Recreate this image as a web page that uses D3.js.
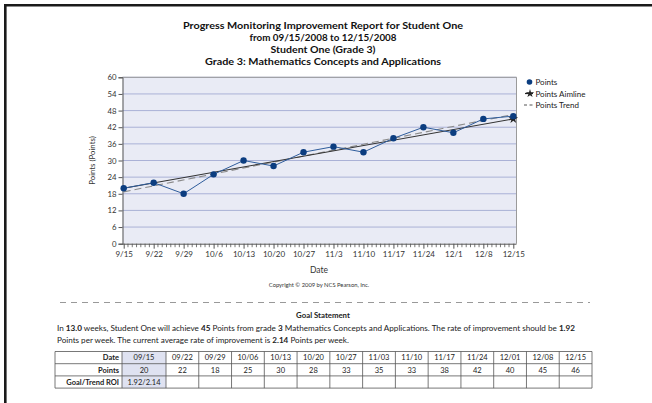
<!DOCTYPE html>
<html><head><meta charset="utf-8">
<script src="https://cdn.jsdelivr.net/npm/d3@7"></script>
<style>
body{margin:0;background:#fff;}
svg{display:block;font-family:Lato,"Open Sans",sans-serif;}
</style></head>
<body><svg id="c" width="652" height="403"></svg>
<script>
const dates = ["9/15","9/22","9/29","10/6","10/13","10/20","10/27","11/3","11/10","11/17","11/24","12/1","12/8","12/15"];
const tableDates = ["09/15","09/22","09/29","10/06","10/13","10/20","10/27","11/03","11/10","11/17","11/24","12/01","12/08","12/15"];
const points = [20,22,18,25,30,28,33,35,33,38,42,40,45,46];
const aimline = [20,45];      // start / end values
const trendline = [18.7,46.6]; // start / end values
const yTicks = [0,6,12,18,24,30,36,42,48,54,60];
const titleLines = ["Progress Monitoring Improvement Report for Student One","from 09/15/2008 to 12/15/2008","Student One (Grade 3)","Grade 3:  Mathematics Concepts and Applications"];
const legendLabels = ["Points","Points Aimline","Points Trend"];
const roiLabel = ["1.92/2.14"];

const svg = d3.select("#c");
// outer frame
svg.append("path").attr("d","M5.3,403 V5.3 H652").attr("fill","none").attr("stroke","#1a1a1a").attr("stroke-width",2.6);

// titles
const tY=[29,41,53,65];
const tW=[280,147,105,236];
titleLines.forEach((t,i)=>{
  svg.append("text").attr("x",323).attr("y",tY[i]).attr("text-anchor","middle")
   .attr("font-size",10).attr("font-weight","bold").attr("fill","#111")
   .attr("textLength",tW[i]).attr("lengthAdjust","spacingAndGlyphs").text(t);
});

const L=122.5,R=516.5,T=77.3,B=243.7;
const x = d3.scaleLinear().domain([0,91]).range([123.7,513.3]);
const y = d3.scaleLinear().domain([0,60]).range([B,T]);
const dayOf = i=>i*7;

svg.append("rect").attr("x",L).attr("y",T).attr("width",R-L).attr("height",B-T).attr("fill","#e9ebf5");
// grid
svg.append("g").selectAll("line").data(yTicks.filter(d=>d>0)).join("line")
  .attr("x1",L).attr("x2",R).attr("y1",d=>y(d)).attr("y2",d=>y(d))
  .attr("stroke","#aab1d6").attr("stroke-width",1);
// plot border top/right
svg.append("path").attr("d",`M${L},${T} H${R} V${B}`).attr("fill","none").attr("stroke","#9a9a9a").attr("stroke-width",1);

// y axis
const yAxis = d3.axisLeft(y).tickValues(yTicks).tickSize(4).tickPadding(2);
const gy = svg.append("g").attr("transform",`translate(${L},0)`).call(yAxis);
gy.select(".domain").attr("stroke","#555");
gy.selectAll(".tick line").attr("stroke","#555");
gy.selectAll("text").attr("font-size",7.8).attr("fill","#333").attr("font-family","Lato,sans-serif");

// x axis: minor day ticks
const days = d3.range(0,92);
svg.append("g").selectAll("line").data(days.filter(d=>d%7!==0)).join("line")
  .attr("x1",d=>x(d)).attr("x2",d=>x(d)).attr("y1",B).attr("y2",B+3.5).attr("stroke","#555").attr("stroke-width",0.8);
const xAxis = d3.axisBottom(x).tickValues(dates.map((d,i)=>dayOf(i))).tickFormat((d,i)=>dates[i]).tickSize(5).tickPadding(3);
const gx = svg.append("g").attr("transform",`translate(0,${B})`).call(xAxis);
gx.select(".domain").attr("d",`M${L},0.5H${R}`).attr("stroke","#555");
gx.selectAll(".tick line").attr("stroke","#555");
gx.selectAll("text").attr("font-size",8).attr("fill","#333").attr("font-family","Lato,sans-serif");

// axis titles
svg.append("text").attr("transform","translate(95,160.5) rotate(-90)").attr("text-anchor","middle")
  .attr("font-size",7.8).attr("fill","#333").text("Points (Points)");
svg.append("text").attr("x",319).attr("y",273).attr("text-anchor","middle").attr("font-size",8.5).attr("fill","#333").text("Date");
svg.append("text").attr("x",319).attr("y",287).attr("text-anchor","middle").attr("font-size",5.8).attr("fill","#333").text("Copyright © 2009 by NCS Pearson, Inc.");

// trend line (dashed)
svg.append("line").attr("x1",x(0)).attr("x2",x(91)).attr("y1",y(trendline[0])).attr("y2",y(trendline[1]))
  .attr("stroke","#8a8a8a").attr("stroke-width",1.1).attr("stroke-dasharray","7,4");
// aimline
svg.append("line").attr("x1",x(0)).attr("x2",x(91)).attr("y1",y(aimline[0])).attr("y2",y(aimline[1]))
  .attr("stroke","#333").attr("stroke-width",1.1);
const star = d3.symbol().type(d3.symbolStar).size(28);
svg.append("path").attr("d",star()).attr("transform",`translate(${x(91)},${y(aimline[1])})`).attr("fill","#222");
// points line
const line = d3.line().x((d,i)=>x(dayOf(i))).y(d=>y(d));
svg.append("path").datum(points).attr("d",line).attr("fill","none").attr("stroke","#2f5d9c").attr("stroke-width",1);
svg.append("g").selectAll("circle").data(points).join("circle")
  .attr("cx",(d,i)=>x(dayOf(i))).attr("cy",d=>y(d)).attr("r",3.2).attr("fill","#0b3d80");

// legend
const lg = svg.append("g");
lg.append("circle").attr("cx",529.5).attr("cy",82).attr("r",2.8).attr("fill","#0b3d80");
lg.append("line").attr("x1",525).attr("x2",533).attr("y1",93.5).attr("y2",93.5).attr("stroke","#222").attr("stroke-width",1.2);
lg.append("path").attr("d",d3.symbol().type(d3.symbolStar).size(22)()).attr("transform","translate(530,93.5)").attr("fill","#222");
lg.append("line").attr("x1",524).attr("x2",533).attr("y1",105).attr("y2",105).attr("stroke","#555").attr("stroke-dasharray","3,2.5");
legendLabels.forEach((t,i)=>{
  lg.append("text").attr("x",535.5).attr("y",[85,96.5,108][i]).attr("font-size",8).attr("fill","#222").text(t);
});

// separator dashed
svg.append("line").attr("x1",60).attr("x2",590).attr("y1",302.5).attr("y2",302.5).attr("stroke","#999").attr("stroke-width",1).attr("stroke-dasharray","6,5");
svg.append("text").attr("x",323).attr("y",318).attr("text-anchor","middle").attr("font-size",7.8).attr("font-weight","bold").attr("fill","#222").text("Goal Statement");

// paragraph
function rich(xp,yp,parts,len){
  const t=svg.append("text").attr("x",xp).attr("y",yp).attr("font-size",8.1).attr("fill","#222");
  if(len) t.attr("textLength",len).attr("lengthAdjust","spacingAndGlyphs");
  parts.forEach(p=>t.append("tspan").attr("font-weight",p[1]?"bold":"normal").text(p[0]));
}
rich(57,331,[["In ",0],["13.0",1],[" weeks, Student One will achieve ",0],["45",1],[" Points from grade ",0],["3",1],[" Mathematics Concepts and Applications. The rate of improvement should be ",0],["1.92",1]],518);
rich(57,343,[["Points per week. The current average rate of improvement is ",0],["2.14",1],[" Points per week.",0]]);

// table
const tx0=55,tx1=592,ty0=351.5,rh=12.2;
const nOther=tableDates.length-1;
const colW=[67,44].concat(d3.range(nOther).map(()=>(tx1-tx0-111)/nOther));
const colX=[tx0]; colW.forEach(w=>colX.push(colX[colX.length-1]+w));
const rows=[["Date"].concat(tableDates),["Points"].concat(points.map(String)),["Goal/Trend ROI"].concat(roiLabel).concat(d3.range(nOther).map(()=>""))];
const tg=svg.append("g");
tg.append("rect").attr("x",colX[1]).attr("y",ty0).attr("width",colW[1]).attr("height",rh*3).attr("fill","#dfe2f1");
rows.forEach((r,ri)=>{
  r.forEach((c,ci)=>{
    const isLabel=ci===0;
    tg.append("text").attr("x",isLabel?colX[1]-3:colX[ci]+colW[ci]/2).attr("y",ty0+rh*ri+8.8)
      .attr("text-anchor",isLabel?"end":"middle").attr("font-size",7.5).attr("font-weight",isLabel?"bold":"normal").attr("fill","#222").text(c);
  });
});
d3.range(4).forEach(i=>tg.append("line").attr("x1",tx0).attr("x2",tx1).attr("y1",ty0+rh*i).attr("y2",ty0+rh*i).attr("stroke","#555").attr("stroke-width",0.8));
colX.forEach(cx=>tg.append("line").attr("x1",cx).attr("x2",cx).attr("y1",ty0).attr("y2",ty0+rh*3).attr("stroke","#555").attr("stroke-width",0.8));
</script></body></html>
